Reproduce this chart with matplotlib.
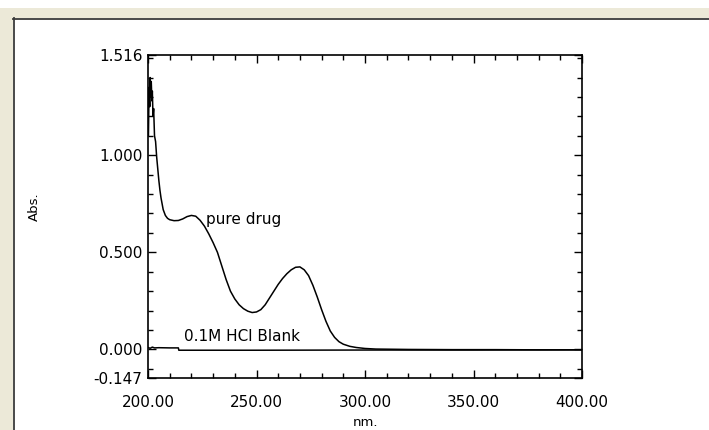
import matplotlib
matplotlib.use("Agg")
import matplotlib.pyplot as plt
from matplotlib.patches import Rectangle
from matplotlib.lines import Line2D
from matplotlib.ticker import FixedLocator, MultipleLocator

# ---- data ----
pure_nm = [200.2, 200.5, 200.8, 201.0, 201.2, 201.5, 201.8, 202.0, 202.3, 202.6,
           203.0, 203.5, 204.0, 204.5, 205.0, 205.5, 206.0, 206.5, 207.0, 208.0,
           209.0, 210.0, 212.0, 214.0, 216.0, 218.0, 220.0, 222.0, 224.0, 226.0,
           228.0, 230.0, 232.0, 234.0, 236.0, 238.0, 240.0, 242.0, 244.0, 246.0,
           248.0, 250.0, 252.0, 254.0, 256.0, 258.0, 260.0, 262.0, 264.0, 266.0,
           268.0, 270.0, 272.0, 274.0, 276.0, 278.0, 280.0, 282.0, 284.0, 286.0,
           288.0, 290.0, 293.0, 296.0, 300.0, 305.0, 320.0, 340.0, 360.0, 380.0, 400.0]
pure_abs = [1.10, 1.35, 1.25, 1.40, 1.30, 1.38, 1.28, 1.33, 1.20, 1.24,
            1.10, 1.07, 0.99, 0.93, 0.87, 0.82, 0.78, 0.75, 0.72, 0.69,
            0.675, 0.668, 0.663, 0.664, 0.672, 0.684, 0.690, 0.686, 0.665, 0.635,
            0.595, 0.55, 0.50, 0.43, 0.36, 0.30, 0.26, 0.23, 0.21, 0.197,
            0.190, 0.193, 0.205, 0.23, 0.265, 0.30, 0.335, 0.365, 0.39, 0.41,
            0.423, 0.425, 0.41, 0.38, 0.33, 0.27, 0.205, 0.145, 0.095, 0.062,
            0.040, 0.027, 0.016, 0.010, 0.005, 0.002, 0.0, -0.001, -0.001, -0.002, -0.002]

blank_nm = [200.0, 201.0, 202.0, 203.0, 205.0, 210.0, 214.0, 214.2, 250.0, 300.0, 350.0, 400.0]
blank_abs = [0.010, 0.006, 0.012, 0.008, 0.009, 0.008, 0.008, -0.004, -0.004, -0.003, -0.003, -0.002]

y_ticks = [-0.147, 0.0, 0.5, 1.0, 1.516]
y_tick_labels = ["-0.147", "0.000", "0.500", "1.000", "1.516"]
x_ticks = [200, 250, 300, 350, 400]
x_tick_labels = ["200.00", "250.00", "300.00", "350.00", "400.00"]

W, H = 709, 430
fig = plt.figure(figsize=(W / 100, H / 100), dpi=100)
fig.patch.set_facecolor("white")

beige = "#ECE9D8"
# window frame
fig.patches.append(Rectangle((0, 1 - 18 / H), 1, 10 / H, transform=fig.transFigure,
                             facecolor=beige, edgecolor="none", zorder=0))
fig.patches.append(Rectangle((0, 0), 13 / W, 1 - 8 / H, transform=fig.transFigure,
                             facecolor=beige, edgecolor="none", zorder=0))
fig.lines.append(Line2D([13 / W, 1], [1 - 18.5 / H, 1 - 18.5 / H], transform=fig.transFigure,
                        color="#3a3a3a", linewidth=1.3))
fig.lines.append(Line2D([13.5 / W, 13.5 / W], [0, 1 - 18 / H], transform=fig.transFigure,
                        color="#3a3a3a", linewidth=1.3))

left, right, top, bottom = 148, 582, 55, 378
ax = fig.add_axes([left / W, 1 - bottom / H, (right - left) / W, (bottom - top) / H])
ax.set_facecolor("white")

ax.plot(pure_nm, pure_abs, color="black", linewidth=1.1)
ax.plot(blank_nm, blank_abs, color="black", linewidth=1.1)

ax.set_xlim(200, 400)
ax.set_ylim(-0.147, 1.516)

fs = 11
ax.xaxis.set_major_locator(FixedLocator(x_ticks))
ax.set_xticklabels(x_tick_labels, fontsize=fs)
ax.xaxis.set_minor_locator(MultipleLocator(10))
ax.yaxis.set_major_locator(FixedLocator(y_ticks))
ax.set_yticklabels(y_tick_labels, fontsize=fs)
ax.yaxis.set_minor_locator(FixedLocator([-0.1 + 0.1 * i for i in range(17)]))

ax.tick_params(which="both", direction="in", top=True, right=True, color="black", width=1.0)
ax.tick_params(which="major", length=6)
ax.tick_params(which="minor", length=3.5)
ax.tick_params(axis="x", which="major", pad=12)
ax.tick_params(axis="y", which="major", pad=4)

for s in ax.spines.values():
    s.set_linewidth(1.2)
    s.set_color("black")

ax.text(226.5, 0.67, "pure drug", fontsize=fs, ha="left", va="center")
ax.text(216.5, 0.066, "0.1M HCl Blank", fontsize=fs, ha="left", va="center")

fig.text(34 / W, 1 - 207 / H, "Abs.", rotation=90, fontsize=fs - 1.5, ha="center", va="center")
fig.text(365 / W, 1 - 423 / H, "nm.", fontsize=fs - 1.5, ha="center", va="center")

fig.savefig("out.png", dpi=100)
